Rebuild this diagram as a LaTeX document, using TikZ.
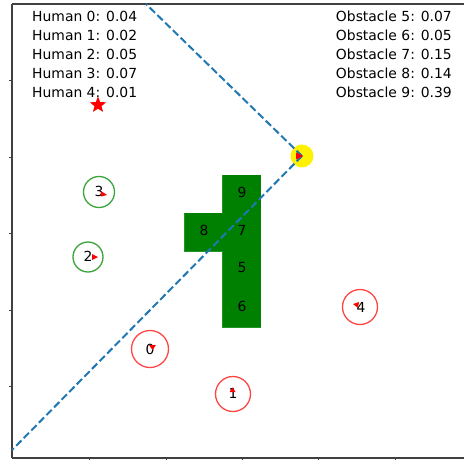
\documentclass[tikz,border=0pt]{standalone}
\usepackage{fontspec}
\setmainfont{DejaVu Sans}
\usetikzlibrary{shapes.geometric}
\definecolor{tabblue}{RGB}{31,119,180}
\definecolor{hgreen}{RGB}{60,165,60}
\definecolor{hred}{RGB}{255,70,70}
\definecolor{obgreen}{RGB}{0,128,0}
\begin{document}
\begin{tikzpicture}[x=1pt,y=-1pt,
  lbl/.style={font=\fontsize{13.9}{17}\selectfont, inner sep=0pt},
  spine/.style={draw=black!75, line width=1.1pt},
  traj/.style={draw=tabblue, line width=2pt, dash pattern=on 7.5pt off 3.3pt},
  block/.style={fill=obgreen, draw=obgreen!85!white, line width=0.6pt, minimum width=38pt, minimum height=38pt, inner sep=0pt},
  safe/.style={circle, draw=hgreen, line width=1.3pt, inner sep=0pt},
  risk/.style={circle, draw=hred, line width=1.3pt, inner sep=0pt},
  dir/.style={fill=red}
]
\useasboundingbox (0,0) rectangle (464,460);
\fill[white] (0,0) rectangle (464,460);
% axes
\draw[spine] (12,4) -- (464,4);
\draw[spine] (12,4) -- (12,458);
\draw[spine] (12,458) -- (464,458);
\foreach \yy in {80,157,233,310,386} \draw[black!75, line width=0.8pt] (12,\yy) -- (8.5,\yy);
\foreach \xx in {89,166,242,318,395} \draw[black!75, line width=0.8pt] (\xx,458) -- (\xx,461);
% obstacles
\node[block] (b9) at (241.5,194) {};
\node[block] (b7) at (241.5,232) {};
\node[block] (b5) at (241.5,270) {};
\node[block] (b6) at (241.5,308) {};
\node[block] (b8) at (203.5,232) {};
\fill[obgreen] (222.5,175) rectangle (260.5,327);
\fill[obgreen] (184.5,213) rectangle (260.5,251);
\node[lbl] (l9) at (242,192) {9};
\node[lbl] (l7) at (242,230) {7};
\node[lbl] (l5) at (242,268) {5};
\node[lbl] (l6) at (242,306) {6};
\node[lbl] (l8) at (204,230) {8};
% robot and trajectory
\node[circle, fill=yellow, minimum size=23pt, inner sep=0pt] (robot) at (302,156) {};
\coordinate (topend) at (146,4);
\coordinate (botend) at (12,450);
\draw[traj] (robot.center) -- (topend);
\draw[traj] (robot.center) -- (botend);
\fill[red] (303,156) -- (296,152.5) -- (296,159.5) -- cycle;
% goal
\node[star, star points=5, star point ratio=2.3, fill=red, minimum size=17pt, inner sep=0pt] (goal) at (98,105) {};
% humans
\node[safe, minimum size=31pt] (h3) at (99,192) {};
\node[safe, minimum size=30pt] (h2) at (88,257) {};
\node[risk, minimum size=37pt] (h0) at (150,349) {};
\node[risk, minimum size=35pt] (h1) at (233,394) {};
\node[risk, minimum size=35pt] (h4) at (360,307) {};
\node[lbl] (t3) at (99,191) {3};
\node[lbl] (t2) at (88,256) {2};
\node[lbl] (t0) at (150,349) {0};
\node[lbl] (t1) at (233,393) {1};
\node[lbl] (t4) at (361,307) {4};
\fill[dir] (107,195) -- (101,191) -- (101,196.5) -- cycle;
\fill[dir] (98,257) -- (92,254) -- (92,260) -- cycle;
\fill[dir] (152.5,350) -- (149,345) -- (156,345) -- cycle;
\fill[dir] (232.5,387.5) -- (229.5,392) -- (235.5,392) -- cycle;
\fill[dir] (353,304) -- (359,302) -- (358,308) -- cycle;
% legend texts
\node[lbl, anchor=base west] (hl0) at (32,22) {Human 0: 0.04};
\node[lbl, anchor=base west] (hl1) at (32,41) {Human 1: 0.02};
\node[lbl, anchor=base west] (hl2) at (32,60) {Human 2: 0.05};
\node[lbl, anchor=base west] (hl3) at (32,79) {Human 3: 0.07};
\node[lbl, anchor=base west] (hl4) at (32,98) {Human 4: 0.01};
\node[lbl, anchor=base east] (ol5) at (452,22) {Obstacle 5: 0.07};
\node[lbl, anchor=base east] (ol6) at (452,41) {Obstacle 6: 0.05};
\node[lbl, anchor=base east] (ol7) at (452,60) {Obstacle 7: 0.15};
\node[lbl, anchor=base east] (ol8) at (452,79) {Obstacle 8: 0.14};
\node[lbl, anchor=base east] (ol9) at (452,98) {Obstacle 9: 0.39};
\end{tikzpicture}
\end{document}
